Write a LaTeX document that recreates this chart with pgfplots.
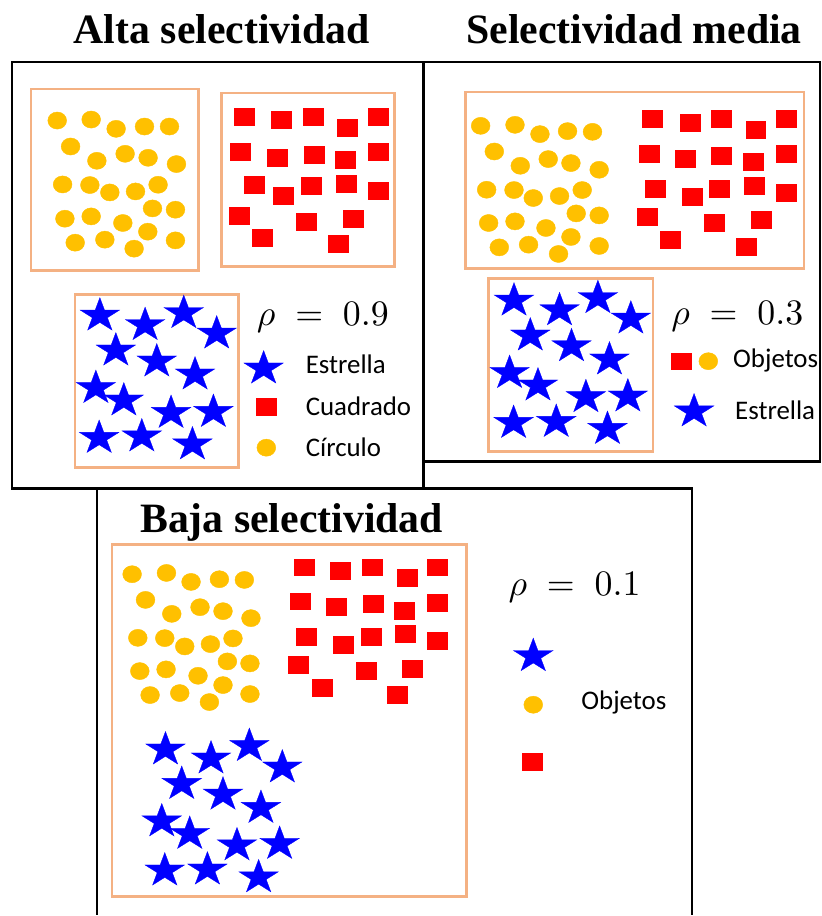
\documentclass[border=0pt]{standalone}
\usepackage{pgfplots}
\pgfplotsset{compat=1.18}
\usepackage{graphicx}
\usepackage{fontspec}
\setmainfont{Carlito}
\newfontfamily\titlefont{Liberation Serif}
\definecolor{cgold}{HTML}{FFC000}
\definecolor{cred}{HTML}{FF0000}
\definecolor{cblue}{HTML}{0000FF}
\definecolor{boxc}{HTML}{F4B183}
\pgfdeclareplotmark{fstar}{%
 \pgfpathmoveto{\pgfpoint{0pt}{0.95\pgfplotmarksize}}%
 \pgfpathlineto{\pgfpoint{0.247\pgfplotmarksize}{0.2936\pgfplotmarksize}}%
 \pgfpathlineto{\pgfpoint{1.046\pgfplotmarksize}{0.2936\pgfplotmarksize}}%
 \pgfpathlineto{\pgfpoint{0.3996\pgfplotmarksize}{-0.1121\pgfplotmarksize}}%
 \pgfpathlineto{\pgfpoint{0.6468\pgfplotmarksize}{-0.7686\pgfplotmarksize}}%
 \pgfpathlineto{\pgfpoint{0pt}{-0.3629\pgfplotmarksize}}%
 \pgfpathlineto{\pgfpoint{-0.6468\pgfplotmarksize}{-0.7686\pgfplotmarksize}}%
 \pgfpathlineto{\pgfpoint{-0.3996\pgfplotmarksize}{-0.1121\pgfplotmarksize}}%
 \pgfpathlineto{\pgfpoint{-1.046\pgfplotmarksize}{0.2936\pgfplotmarksize}}%
 \pgfpathlineto{\pgfpoint{-0.247\pgfplotmarksize}{0.2936\pgfplotmarksize}}%
 \pgfpathclose
 \pgfusepathqfillstroke}
\pgfplotsset{
 circ/.style={only marks,mark=*,mark size=8.6,mark options={draw=cgold,fill=cgold,xscale=1.1}},
 sq/.style={only marks,mark=square*,mark size=8.5,mark options={draw=cred,fill=cred,xscale=1.18}},
 st/.style={only marks,mark=fstar,mark size=19,mark options={draw=cblue,fill=cblue,line width=0.3pt}},
}
\newcommand{\rhotext}[1]{\scalebox{3.6}{$\rho\;=\;#1$}}
\newcommand{\lab}[1]{\fontsize{27}{31}\selectfont #1}
\begin{document}
\begin{tikzpicture}
\begin{axis}[width=823bp,height=916bp,scale only axis,xmin=0,xmax=823,ymin=0,ymax=916,
 y dir=reverse,hide axis,clip=false]
\path[draw=none] (axis cs:0,0) rectangle (axis cs:823,916);
% black frames
\draw[black,line width=2.5pt] (axis cs:12,62) rectangle (axis cs:424,489);
\draw[black,line width=2.5pt] (axis cs:424,62) -- (axis cs:821,62) -- (axis cs:821,462) -- (axis cs:424,462);
\draw[black,line width=2.5pt] (axis cs:97,916) -- (axis cs:97,489) -- (axis cs:693,489) -- (axis cs:693,916);
% orange boxes
\draw[boxc,line width=2.6pt] (axis cs:31,89) rectangle (axis cs:199,271);
\draw[boxc,line width=2.6pt] (axis cs:222,93) rectangle (axis cs:395,267);
\draw[boxc,line width=2.6pt] (axis cs:75,295) rectangle (axis cs:239,468);
\draw[boxc,line width=2.6pt] (axis cs:466,92) rectangle (axis cs:805,269);
\draw[boxc,line width=2.6pt] (axis cs:489,279) rectangle (axis cs:654,452);
\draw[boxc,line width=2.6pt] (axis cs:112,545) rectangle (axis cs:467,898);
% ---- top-left panel
\addplot[circ] coordinates {(57.3,120.7)(91.3,119.7)(116.3,129)(144.7,126.7)(169.7,126.7)
(70.7,146.7)(97,161)(125.3,154)(148.3,158)(176.7,164.3)
(62.7,184.7)(90,185.3)(110,192.7)(135.7,191.7)(158.3,185)
(152.7,208.7)(175.7,210)(65,219)(91.3,216.7)(123,223.3)(148,232)
(75.3,243)(105,240)(134.3,249)(175.7,240.7)};
\addplot[sq] coordinates {(244.3,117)(282,120.3)(313.7,117)(347.7,127.7)(378.7,117)
(240.7,152)(277.3,157.7)(314.7,154.7)(345.3,160)(378.7,152)
(254.3,185.3)(284,195.7)(312,186.3)(346.7,184)(378.7,191)
(239.7,216)(306.7,221.7)(353.3,219.3)(262.3,237.7)(338.7,244.3)};
\addplot[st] coordinates {(100,316)(145.3,325.5)(184,313.5)(217,334)(116,351)(157,362)(195.3,375)
(96,388.5)(124,401)(171.3,413.5)(213.7,412.5)(99.3,438.5)(142,437)(192.7,445)};
% legend TL
\addplot[st] coordinates {(264,369)};
\addplot[sq] coordinates {(266.7,407.3)};
\addplot[circ] coordinates {(266.7,448.3)};
\node[anchor=west,inner sep=0pt] at (axis cs:306,365) {\lab{Estrella}};
\node[anchor=west,inner sep=0pt] at (axis cs:306,407) {\lab{Cuadrado}};
\node[anchor=west,inner sep=0pt] at (axis cs:306,448) {\lab{Círculo}};
\node[anchor=base west,inner sep=0pt] at (axis cs:257,326) {\rhotext{0.9}};
% ---- top-right panel
\addplot[circ] coordinates {(481.3,126)(515.7,125)(540.7,134.3)(568.3,131.3)(593.3,132)
(495,151.7)(521,166)(549,159.3)(571.7,163.3)(600,170)
(487.3,190)(514.7,190.3)(534,198.3)(560.3,196.3)(583,190.3)
(577,213.7)(600,215.7)(489.3,223.3)(515.7,221.7)(546.7,228.3)(571.7,237.3)
(500,247.7)(529.3,245)(559.3,254.3)(600,246.3)};
\addplot[sq] coordinates {(653,119)(690.7,122.7)(722.3,119)(756.7,129.7)(787.3,119)
(649.7,153.7)(686,159)(722.3,155.7)(754.3,162.3)(787.3,154.3)
(656.3,188.7)(692.7,196.7)(720.3,188.7)(755.3,186.3)(787.3,193.3)
(648.3,217)(715,222.7)(762.3,220.3)(671.3,240)(747.3,246.7)};
\addplot[st] coordinates {(514.7,301)(560.3,310.7)(598.7,298.5)(631.7,319)(531,336)(572.3,346.7)(610.3,360)
(510.3,373.5)(538.7,386)(586.7,397.7)(628.7,397)(514.3,423.5)(557,422.5)(608.3,429.5)};
% legend TR
\addplot[sq] coordinates {(682.3,361.7)};
\addplot[circ] coordinates {(709.3,361.7)};
\addplot[st] coordinates {(695,412)};
\node[anchor=west,inner sep=0pt] at (axis cs:734,361) {\lab{Objetos}};
\node[anchor=west,inner sep=0pt] at (axis cs:736,411) {\lab{Estrella}};
\node[anchor=base west,inner sep=0pt] at (axis cs:672,325) {\rhotext{0.3}};
% ---- bottom panel
\addplot[circ] coordinates {(132.3,575)(166.7,573.7)(191.3,582.7)(219.7,580)(244.7,580.7)
(145.7,600.7)(172,614.7)(200.3,608)(223.3,612)(251.3,619)
(138,638.7)(165,639)(185,647.3)(210.7,645)(233.3,639.3)
(227.7,662.3)(250.3,664.3)(140,672)(166.3,670.3)(198.3,676.7)(223.3,686)
(150.3,696)(180,694)(209.7,703)(250.3,695)};
\addplot[sq] coordinates {(304.7,568)(341,571.3)(373,568)(407.7,578.3)(438,568)
(300.7,602)(337,607.7)(374,604.7)(404.7,611.3)(438,603.3)
(307,637.7)(344,645.3)(372,637.7)(406,635)(438,642)
(299,666)(366.3,671.7)(413,669.3)(322.3,688.7)(398,695.7)};
\addplot[st] coordinates {(165.7,750.5)(211.3,759.5)(249.7,747)(282.7,768.5)(182,785)(223.3,795.7)(261.3,809)
(162,822.5)(190,835)(237.3,846.5)(280,845)(165,871.7)(207.7,870.7)(259,878.5)};
% legend bottom
\addplot[st] coordinates {(534,657)};
\addplot[circ] coordinates {(534,705.7)};
\addplot[sq] coordinates {(533.3,762.7)};
\node[anchor=west,inner sep=0pt] at (axis cs:582,703) {\lab{Objetos}};
\node[anchor=base west,inner sep=0pt] at (axis cs:509,596) {\rhotext{0.1}};
% titles
\node[anchor=base,inner sep=0pt] at (axis cs:222,44) {\titlefont\bfseries\fontsize{42}{48}\selectfont Alta selectividad};
\node[anchor=base,inner sep=0pt] at (axis cs:635,44) {\titlefont\bfseries\fontsize{42}{48}\selectfont Selectividad media};
\node[anchor=base,inner sep=0pt] at (axis cs:292,533) {\titlefont\bfseries\fontsize{42}{48}\selectfont Baja selectividad};
\end{axis}
\end{tikzpicture}
\end{document}
